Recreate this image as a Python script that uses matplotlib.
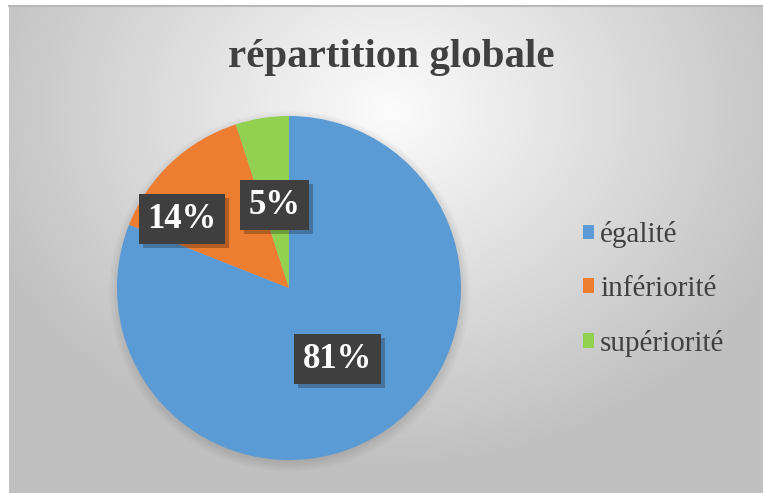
import numpy as np
import matplotlib
matplotlib.use("Agg")
import matplotlib.pyplot as plt
from matplotlib.patches import Patch
from matplotlib import patheffects

# Data
categories = ["égalité", "infériorité", "supériorité"]
shares = [81, 14, 5]
colors = ["#5B9BD5", "#ED7D31", "#92D050"]
title = "répartition globale"

W, H = 763, 493
fig = plt.figure(figsize=(W / 100, H / 100), dpi=100)
fig.patch.set_facecolor("white")

ax = fig.add_axes([0, 0, 1, 1])
ax.set_xlim(0, W)
ax.set_ylim(0, H)
ax.set_axis_off()

# Radial grey background of the chart area
x0, y0 = 9, 0            # left / bottom of chart area (pixels)
x1, y1 = W, H - 6        # right / top
yy, xx = np.mgrid[y0:y1, x0:x1]
cx, cy = 390, H - 110
d = np.sqrt(((xx - cx) / 520.0) ** 2 + ((yy - cy) / 430.0) ** 2)
val = np.clip(252 - 72 * d, 192, 252) / 255.0
bg = np.dstack([val, val, val])
ax.imshow(bg, extent=(x0, x1, y0, y1), origin="lower", zorder=0, aspect="auto")
ax.plot([x0, x1], [y1, y1], color="#b8b8b8", lw=1.5, zorder=1)

# Pie geometry
pcx, pcy, rad = 289, H - 288, 172

# Soft shadow under the pie
sy, sx = np.mgrid[0:H, 0:W]
dist = np.sqrt((sx - pcx) ** 2 + (sy - (pcy - 4)) ** 2)
alpha = np.clip((rad + 9 - dist) / 14.0, 0, 1) * 0.35
shadow = np.zeros((H, W, 4))
shadow[..., 0:3] = 0.45
shadow[..., 3] = alpha
ax.imshow(shadow, extent=(0, W, 0, H), origin="lower", zorder=2, aspect="auto")

wedges, _ = ax.pie(shares, colors=colors, startangle=90, counterclock=False,
                   center=(pcx, pcy), radius=rad, frame=True,
                   wedgeprops=dict(linewidth=0))
for w in wedges:
    w.set_zorder(3)
ax.set_xlim(0, W)
ax.set_ylim(0, H)
ax.set_aspect("auto")
ax.set_axis_off()

# Data labels on dark boxes
label_pos = [(0.50, 0.0), (0.74, 14.0), (0.49, 1.0)]  # (radius fraction, angle shift)
for w, v, (rf, dth) in zip(wedges, shares, label_pos):
    mid = np.deg2rad((w.theta1 + w.theta2) / 2 + dth)
    tx = pcx + rf * rad * np.cos(mid)
    ty = pcy + rf * rad * np.sin(mid)
    t = ax.text(tx, ty, f"{v}%", ha="center", va="center", fontsize=25,
                family="Liberation Serif", weight="bold", color="white",
                bbox=dict(boxstyle="square,pad=0.25", fc="#3f3f3f", ec="none"),
                zorder=5)
    t.get_bbox_patch().set_path_effects(
        [patheffects.withSimplePatchShadow(offset=(3, -3), shadow_rgbFace="black",
                                           alpha=0.25)])

# Title
fig.text(391 / W, 1 - 57 / H, title, ha="center", va="center", fontsize=29.5,
         family="Liberation Serif", weight="bold", color="#404040")

# Legend
handles = [Patch(facecolor=c, edgecolor="none") for c in colors]
leg = fig.legend(handles, categories, loc="center left",
                 bbox_to_anchor=(568 / W, 1 - 289 / H), frameon=False,
                 prop=dict(family="Liberation Serif", size=21),
                 handlelength=0.4, handleheight=0.4, handletextpad=0.2,
                 labelspacing=0.95, borderpad=0)
for t in leg.get_texts():
    t.set_color("#404040")

fig.savefig("out.png", dpi=100)
